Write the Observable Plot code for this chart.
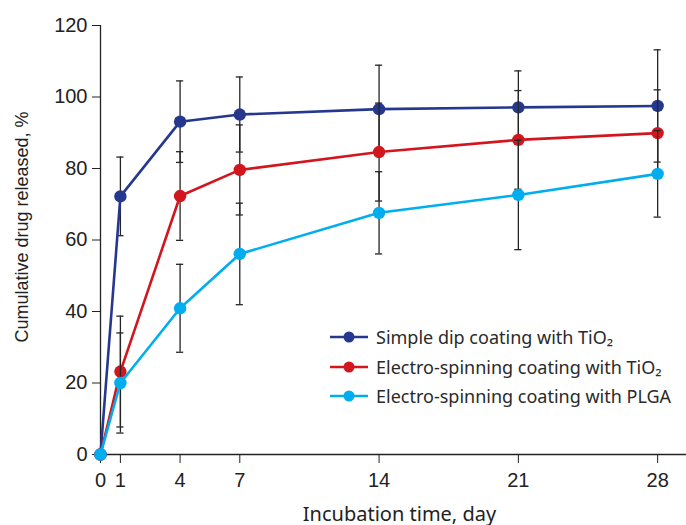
<!DOCTYPE html>
<html>
<head>
<meta charset="utf-8">
<script src="https://cdn.jsdelivr.net/npm/d3@7"></script>
<script src="https://cdn.jsdelivr.net/npm/@observablehq/plot@0.6"></script>
<style>
  html, body { margin: 0; padding: 0; background: #fff; }
  #wrap { position: relative; width: 686px; height: 525px; overflow: hidden; }
  #legend { position: absolute; left: 330px; top: 322px; font-family: "Noto Sans", sans-serif; font-size: 18px; color: #2a2a2a; }
  #legend .row { display: flex; align-items: center; height: 29.7px; white-space: nowrap; }
  #legend svg { margin-right: 8px; flex: none; }
</style>
</head>
<body>
<div id="wrap"><div id="legend"></div></div>
<script>
// ---- data ----
const days = [0, 1, 4, 7, 14, 21, 28];
const xTicks = [0, 1, 4, 7, 14, 21, 28];
const yTicks = [0, 20, 40, 60, 80, 100, 120];
const seriesNames = ["Simple dip coating with TiO₂", "Electro-spinning coating with TiO₂", "Electro-spinning coating with PLGA"];
const seriesColors = ["#26388e", "#d2161e", "#00aeef"];
const dipValues   = [0, 72.2, 93.1, 95.1, 96.6, 97.1, 97.5];
const dipErrors   = [0, 11.0, 11.4, 10.5, 12.3, 10.2, 15.7];
const esTiO2Values = [0, 23.2, 72.3, 79.6, 84.6, 88.0, 89.9];
const esTiO2Errors = [0, 15.5, 12.4, 12.6, 13.7, 13.8, 12.1];
const plgaValues  = [0, 20.0, 40.9, 56.1, 67.6, 72.6, 78.5];
const plgaErrors  = [0, 14.0, 12.3, 14.2, 11.5, 15.3, 12.1];
const xTitle = "Incubation time, day";
const yTitle = "Cumulative drug released, %";

const valueSets = [dipValues, esTiO2Values, plgaValues];
const errorSets = [dipErrors, esTiO2Errors, plgaErrors];

const rows = [];
seriesNames.forEach((s, i) => {
  days.forEach((d, j) => rows.push({series: s, day: d, value: valueSets[i][j], err: errorSets[i][j]}));
});

const barColor = "#252525";
const capHalf = 0.18; // in days
const tickFont = "'Liberation Sans', Arial, sans-serif";

const seriesMarks = [];
seriesNames.forEach((s) => {
  const sub = rows.filter(r => r.series === s);
  const bars = sub.filter(r => r.err > 0);
  seriesMarks.push(
    Plot.ruleX(bars, {x: "day", y1: r => r.value - r.err, y2: r => r.value + r.err, stroke: barColor, strokeWidth: 1.3}),
    Plot.ruleY(bars, {y: r => r.value + r.err, x1: r => r.day - capHalf, x2: r => r.day + capHalf, stroke: barColor, strokeWidth: 1.3}),
    Plot.ruleY(bars, {y: r => r.value - r.err, x1: r => r.day - capHalf, x2: r => r.day + capHalf, stroke: barColor, strokeWidth: 1.3}),
    Plot.line(sub, {x: "day", y: "value", stroke: "series", strokeWidth: 2.6}),
    Plot.dot(sub, {x: "day", y: "value", fill: "series", r: 6.2})
  );
});

const chart = Plot.plot({
  width: 686,
  height: 525,
  marginLeft: 100,
  marginRight: 0,
  marginTop: 25,
  marginBottom: 71,
  x: {domain: [0, 29.45]},
  y: {domain: [0, 120]},
  color: {domain: seriesNames, range: seriesColors},
  style: {color: "#222", background: "#fff", overflow: "visible"},
  marks: [
    Plot.axisX({ticks: xTicks, tickSize: 9, tickPadding: 9, label: null, tickFormat: d => String(d), fontSize: 20, fontFamily: tickFont}),
    Plot.axisY({ticks: yTicks, tickSize: 8, tickPadding: 5, label: null, fontSize: 20, fontFamily: tickFont}),
    Plot.ruleY([0], {stroke: "#222", strokeWidth: 1.3}),
    Plot.ruleX([0], {stroke: "#222", strokeWidth: 1.3}),
    ...seriesMarks,
    Plot.text([yTitle], {frameAnchor: "left", textAnchor: "middle", dx: -78, dy: -13, rotate: -90, fontSize: 18, fontFamily: tickFont, fill: "#222"}),
    Plot.text([xTitle], {frameAnchor: "bottom", dx: 6, dy: 66, fontSize: 20, fontFamily: "'Noto Sans', sans-serif", fill: "#222"})
  ]
});
document.getElementById("wrap").prepend(chart);

// legend
const legend = d3.select("#legend");
seriesNames.forEach((s, i) => {
  const row = legend.append("div").attr("class", "row");
  const sw = row.append("svg").attr("width", 38).attr("height", 14);
  sw.append("line").attr("x1", 0).attr("x2", 38).attr("y1", 7).attr("y2", 7).attr("stroke", seriesColors[i]).attr("stroke-width", 2.6);
  sw.append("circle").attr("cx", 19).attr("cy", 7).attr("r", 5.5).attr("fill", seriesColors[i]);
  row.append("span").text(s);
});
</script>
</body>
</html>
